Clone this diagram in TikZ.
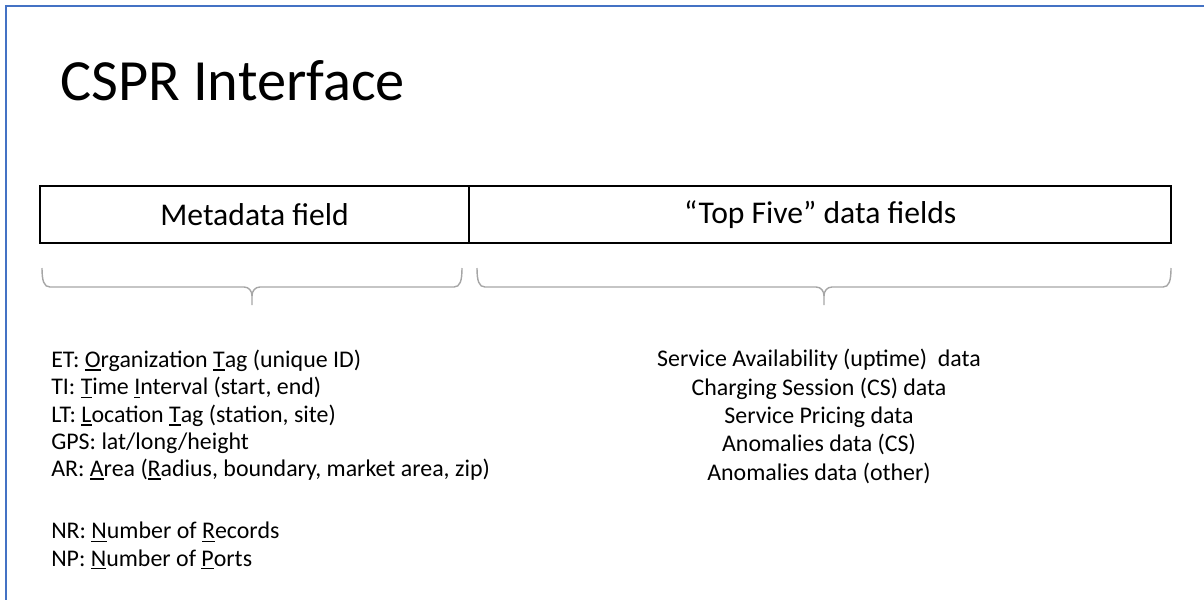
\documentclass[tikz,border=0pt]{standalone}
\usepackage{fontspec}
\setmainfont{Carlito}
\usetikzlibrary{positioning}
\definecolor{slideblue}{RGB}{68,114,196}
\newcommand{\keyletter}[1]{\setbox0\hbox{#1}\rlap{\vrule height -1.2pt depth 2.4pt width \wd0}\box0}
\newcommand{\fieldbrace}[2]{%
  \draw[brace line] (#1,268) .. controls (#1,281) and ({#1+2},287) .. ({#1+8},287)
    -- ({(#1+#2)/2-8},287) .. controls ({(#1+#2)/2-3},287) and ({(#1+#2)/2},291) .. ({(#1+#2)/2},296)
    -- ({(#1+#2)/2},305);
  \draw[brace line] ({(#1+#2)/2},296) .. controls ({(#1+#2)/2},291) and ({(#1+#2)/2+3},287) .. ({(#1+#2)/2+8},287)
    -- ({#2-8},287) .. controls ({#2-2},287) and (#2,281) .. (#2,268);}

\begin{document}
\begin{tikzpicture}[x=0.025cm, y=-0.025cm,
    field/.style={draw, line width=1.4pt, outer sep=0pt, inner sep=0pt, minimum height=1.425cm, font=\fontsize{22.5}{27}\selectfont},
    brace line/.style={black!35, line width=1pt},
    list/.style={inner sep=0pt, font=\fontsize{17}{20.2}\selectfont},
    meta list/.style={list, anchor=north west, align=left, font=\fontsize{17}{19.35}\selectfont}]
  \useasboundingbox (0,0) rectangle (1204,600);
  \draw[slideblue, line width=1.5pt] (1204,6) -- (6,6) -- (6,600);

  \node[anchor=base west, inner sep=0pt, font=\fontsize{41.5}{50}\selectfont] (title) at (60,100) {CSPR Interface};

  % the two fields
  \node[field, minimum width=10.725cm, anchor=north west] (meta) at (40,186) {Metadata field};
  \node[field, minimum width=17.55cm, right=0pt of meta] (topfive) {“Top Five” data fields};

  \fieldbrace{42}{462}
  \fieldbrace{477}{1171}

  % contents
  \node[meta list] (metalist) at (51,350) {%
    ET: \keyletter{O}rganization \keyletter{T}ag (unique ID)\\
    TI: \keyletter{T}ime \keyletter{I}nterval (start, end)\\
    LT: \keyletter{L}ocation \keyletter{T}ag (station, site)\\
    GPS: lat/long/height\\
    AR: \keyletter{A}rea (\keyletter{R}adius, boundary, market area, zip)};
  \node[meta list] (countlist) at (51,522) {%
    NR: \keyletter{N}umber of \keyletter{R}ecords\\
    NP: \keyletter{N}umber of \keyletter{P}orts};
  \node[list, anchor=north, align=center] (datalist) at (819,349) {%
    Service Availability (uptime)\ \ data\\
    Charging Session (CS) data\\
    Service Pricing data\\
    Anomalies data (CS)\\
    Anomalies data (other)};
\end{tikzpicture}
\end{document}
